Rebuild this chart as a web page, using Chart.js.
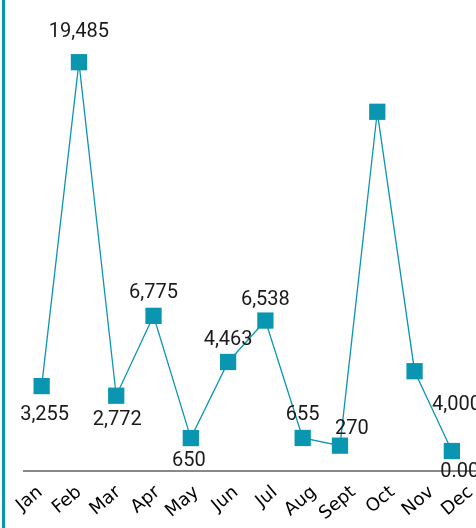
<!DOCTYPE html>
<html>
<head>
<meta charset="utf-8">
<script src="https://cdn.jsdelivr.net/npm/chart.js@4/dist/chart.umd.min.js"></script>
<style>
  html, body { margin: 0; padding: 0; background: #fff; overflow: hidden; }
  #wrap { position: absolute; left: 2px; top: 0; width: 477px; height: 528px; border-left: 3px solid #0a96b0; }
</style>
</head>
<body>
<div id="wrap"><canvas id="myLineChart"></canvas></div>
<script>
var months = ['Jan', 'Feb', 'Mar', 'Apr', 'May', 'Jun', 'Jul', 'Aug', 'Sept', 'Oct', 'Nov', 'Dec'];
var amounts = [3255, 19485, 2772, 6775, 650, 4463, 6538, 655, 270, 17000, 4000, 0];

// where each value label sits relative to its point (null = not shown)
var labelOffsets = [[3, 27], [0, -32], [1, 22], [0, -25], [-2, 21], [0, -24], [0, -23], [0, -25], [12, -19], null, [42, 32], [8, 19]];

var teal = '#0a96b0';

var valueLabels = {
  id: 'valueLabels',
  afterDatasetsDraw: function (chart) {
    var ctx = chart.ctx;
    var meta = chart.getDatasetMeta(0);
    ctx.save();
    ctx.font = '20px Roboto';
    ctx.fillStyle = '#1a1a1a';
    ctx.textAlign = 'center';
    ctx.textBaseline = 'alphabetic';
    meta.data.forEach(function (pt, i) {
      var off = labelOffsets[i];
      if (!off) return;
      var v = amounts[i];
      var txt = v === 0 ? v.toFixed(2) : v.toLocaleString('en-US');
      ctx.fillText(txt, pt.x + off[0], pt.y + off[1] + 7);
    });
    ctx.restore();
  }
};

// axis line to the canvas edge, month labels on a slightly wider spacing than the points
var axisLine = {
  id: 'axisLine',
  beforeDatasetsDraw: function (chart) {
    var ctx = chart.ctx;
    var xs = chart.scales.x;
    var y = chart.chartArea.bottom;
    ctx.save();
    ctx.strokeStyle = '#888';
    ctx.lineWidth = 2;
    ctx.beginPath();
    ctx.moveTo(chart.chartArea.left, y);
    ctx.lineTo(chart.width, y);
    ctx.stroke();

    var step = xs.width / months.length * 1.05;
    var x0 = xs.getPixelForValue(0) - 1.5;
    ctx.font = '18px "DejaVu Sans"';
    ctx.fillStyle = '#000';
    ctx.textAlign = 'right';
    ctx.textBaseline = 'middle';
    months.forEach(function (m, i) {
      ctx.save();
      ctx.translate(x0 + step * i, y + 19);
      ctx.rotate(-40 * Math.PI / 180);
      ctx.fillText(m, 0, 0);
      ctx.restore();
    });
    ctx.restore();
  }
};

var ctx = document.getElementById('myLineChart').getContext('2d');
var myLineChart = new Chart(ctx, {
  type: 'line',
  data: {
    labels: months,
    datasets: [{
      data: amounts,
      borderColor: teal,
      borderWidth: 1.3,
      backgroundColor: teal,
      pointStyle: 'rect',
      pointRadius: 11.5,
      pointBorderWidth: 0,
      pointHoverRadius: 11.5,
      fill: false,
      tension: 0,
      clip: false
    }]
  },
  options: {
    responsive: true,
    maintainAspectRatio: false,
    animation: false,
    layout: { padding: { left: 18, right: 0, top: 12, bottom: 0 } },
    scales: {
      x: {
        offset: true,
        grid: { display: false },
        border: { display: false },
        ticks: {
          display: false,
          font: { family: 'DejaVu Sans', size: 18 },
          minRotation: 40,
          maxRotation: 40,
          autoSkip: false
        },
        afterFit: function (scale) {
          scale.height = 57;
        }
      },
      y: {
        display: false,
        min: -1000,
        max: 22000
      }
    },
    plugins: {
      legend: { display: false },
      tooltip: { enabled: false }
    }
  },
  plugins: [axisLine, valueLabels]
});
</script>
</body>
</html>
